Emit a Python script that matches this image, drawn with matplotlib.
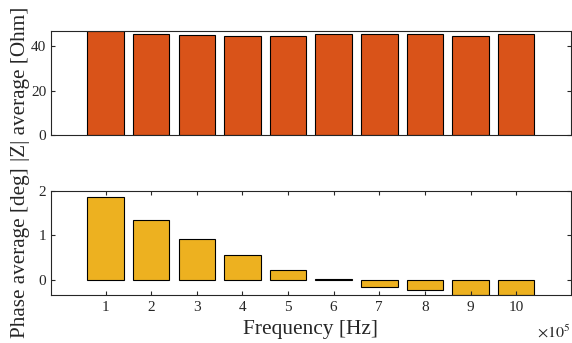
import matplotlib
matplotlib.use('Agg')
import matplotlib.pyplot as plt

plt.rcParams['font.family'] = ['Liberation Serif', 'DejaVu Serif']
plt.rcParams['mathtext.fontset'] = 'stix'

freq = [1e5, 2e5, 3e5, 4e5, 5e5, 6e5, 7e5, 8e5, 9e5, 10e5]
z_avg = [46.9, 45.5, 45.1, 44.8, 44.7, 45.3, 45.3, 45.3, 44.7, 45.5]
phase_avg = [1.87, 1.35, 0.91, 0.555, 0.23, 0.02, -0.15, -0.22, -0.33, -0.33]
xtick_labels = ['1', '2', '3', '4', '5', '6', '7', '8', '9', '10']

scale = 1e5
x = [f / scale for f in freq]
ax_col = '#262626'
lab_size = 15.2

fig = plt.figure(figsize=(5.72, 3.43), dpi=100)
ax1 = fig.add_axes([0.089, 0.606, 0.909, 0.304])
ax2 = fig.add_axes([0.089, 0.140, 0.909, 0.304])

ax1.bar(x, z_avg, width=0.8, color='#D95319', edgecolor='black', linewidth=0.8)
ax1.set_xlim(-0.2, 11.2)
ax1.set_ylim(0, max(z_avg))
ax1.set_yticks([0, 20, 40])
ax1.set_xticks([])
ax1.set_ylabel('|Z| average [Ohm]', fontsize=lab_size, color=ax_col)

ax2.bar(x, phase_avg, width=0.8, color='#EDB120', edgecolor='black', linewidth=0.8)
ax2.set_xlim(-0.2, 11.2)
ax2.set_ylim(min(phase_avg) - 0.01, 2)
ax2.set_yticks([0, 1, 2])
ax2.set_xticks(x)
ax2.set_xticklabels(xtick_labels)
ax2.set_xlabel('Frequency [Hz]', fontsize=15.4, color=ax_col)
ax2.set_ylabel('Phase average [deg]', fontsize=lab_size, color=ax_col)
ax2.text(1.0, -0.413, r'$\times 10^{5}$', transform=ax2.transAxes,
         ha='right', va='baseline', fontsize=11.5, color=ax_col)

for ax in (ax1, ax2):
    for s in ax.spines.values():
        s.set_color(ax_col)
        s.set_linewidth(0.8)
        s.set_zorder(3)
    ax.tick_params(direction='in', length=3, width=0.8, colors=ax_col,
                   labelsize=11, top=True, right=True)
    ax.tick_params(axis='y', pad=3.2)
    ax.tick_params(axis='x', pad=4.5)

ax1.yaxis.set_label_coords(-0.041, 0.49)
ax2.yaxis.set_label_coords(-0.041, 0.41)
ax2.xaxis.set_label_coords(0.5, -0.24)

plt.savefig('out.png', dpi=100)
